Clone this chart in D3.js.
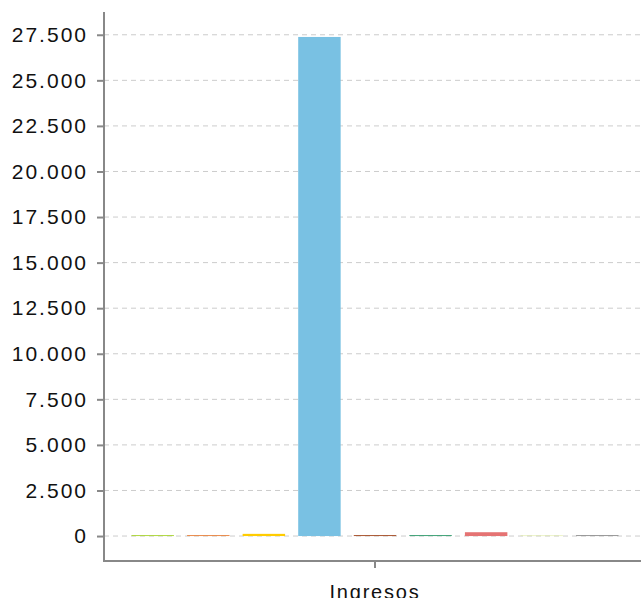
<!DOCTYPE html>
<html lang="es">
<head>
  <meta charset="UTF-8" />
  <title>Ingresos</title>
  <script src="https://d3js.org/d3.v7.min.js"></script>
  <style>
    body {
      margin: 0;
      padding: 0;
      background: #fff;
      font-family: "Liberation Sans", Arial, sans-serif;
    }

    .grid line {
      stroke: #cccccc;
      stroke-dasharray: 5,4;
    }

    .axis path,
    .axis line {
      stroke: #888888;
      stroke-width: 2;
    }

    .axis text {
      font-size: 20px;
      letter-spacing: 1.8px;
      fill: #111;
    }

    .y.axis text {
      font-size: 21px;
      letter-spacing: 2px;
    }
  </style>
</head>
<body>
  <div id="chart"></div>

  <script>
    const width = 641;
    const height = 598;
    const margin = { top: 12, right: -5, bottom: 37, left: 104 };

    // data
    const categories = ["Ingresos"];
    const seriesNames = ["Serie 1", "Serie 2", "Serie 3", "Serie 4", "Serie 5", "Serie 6", "Serie 7", "Serie 8", "Serie 9"];
    const seriesValues = [50, 50, 120, 27380, 50, 50, 210, 30, 50];
    const seriesColors = ["#a8d42f", "#e8803a", "#ffcc00", "#79c1e3", "#a2481f", "#2f9a6b", "#e57373", "#dcea9a", "#8e8e8e"];
    const yTicks = [0, 2500, 5000, 7500, 10000, 12500, 15000, 17500, 20000, 22500, 25000, 27500];

    const svg = d3.select("#chart")
      .append("svg")
      .attr("width", width)
      .attr("height", height);

    const innerW = width - margin.left - margin.right;
    const innerH = height - margin.top - margin.bottom;

    const g = svg.append("g")
      .attr("transform", `translate(${margin.left},${margin.top})`);

    const maxVal = d3.max(seriesValues);
    const y = d3.scaleLinear()
      .domain([-0.05 * maxVal, 1.05 * maxVal])
      .range([innerH, 0]);

    const x0 = d3.scaleBand()
      .domain(categories)
      .range([0, innerW])
      .paddingOuter(0.028)
      .paddingInner(0);

    const x1 = d3.scaleBand()
      .domain(seriesNames)
      .range([0, x0.bandwidth()])
      .padding(0.236);

    const fmt = d => d3.format(",")(d).replace(/,/g, ".");

    // grid lines
    g.append("g")
      .attr("class", "grid")
      .selectAll("line")
      .data(yTicks)
      .enter()
      .append("line")
      .attr("x1", 0)
      .attr("x2", innerW)
      .attr("y1", d => y(d))
      .attr("y2", d => y(d));

    // bars
    const groups = g.selectAll(".cat")
      .data(categories)
      .enter()
      .append("g")
      .attr("class", "cat")
      .attr("transform", d => `translate(${x0(d)},0)`);

    groups.selectAll("rect")
      .data(seriesNames.map((s, i) => ({ name: s, value: seriesValues[i], color: seriesColors[i] })))
      .enter()
      .append("rect")
      .attr("x", d => x1(d.name))
      .attr("width", x1.bandwidth())
      .attr("y", d => y(d.value))
      .attr("height", d => y(0) - y(d.value))
      .attr("fill", d => d.color);

    // y axis
    const yAxis = g.append("g")
      .attr("class", "y axis")
      .call(d3.axisLeft(y).tickValues(yTicks).tickFormat(fmt).tickSize(7).tickSizeOuter(0).tickPadding(9));

    // x axis
    const xAxis = g.append("g")
      .attr("class", "x axis")
      .attr("transform", `translate(0,${innerH})`)
      .call(d3.axisBottom(x0).tickSize(7).tickSizeOuter(0).tickPadding(17));

    yAxis.select(".domain").attr("d", `M0,0V${innerH}`);
    xAxis.select(".domain").attr("d", `M-1,0H${innerW}`);
  </script>
</body>
</html>
